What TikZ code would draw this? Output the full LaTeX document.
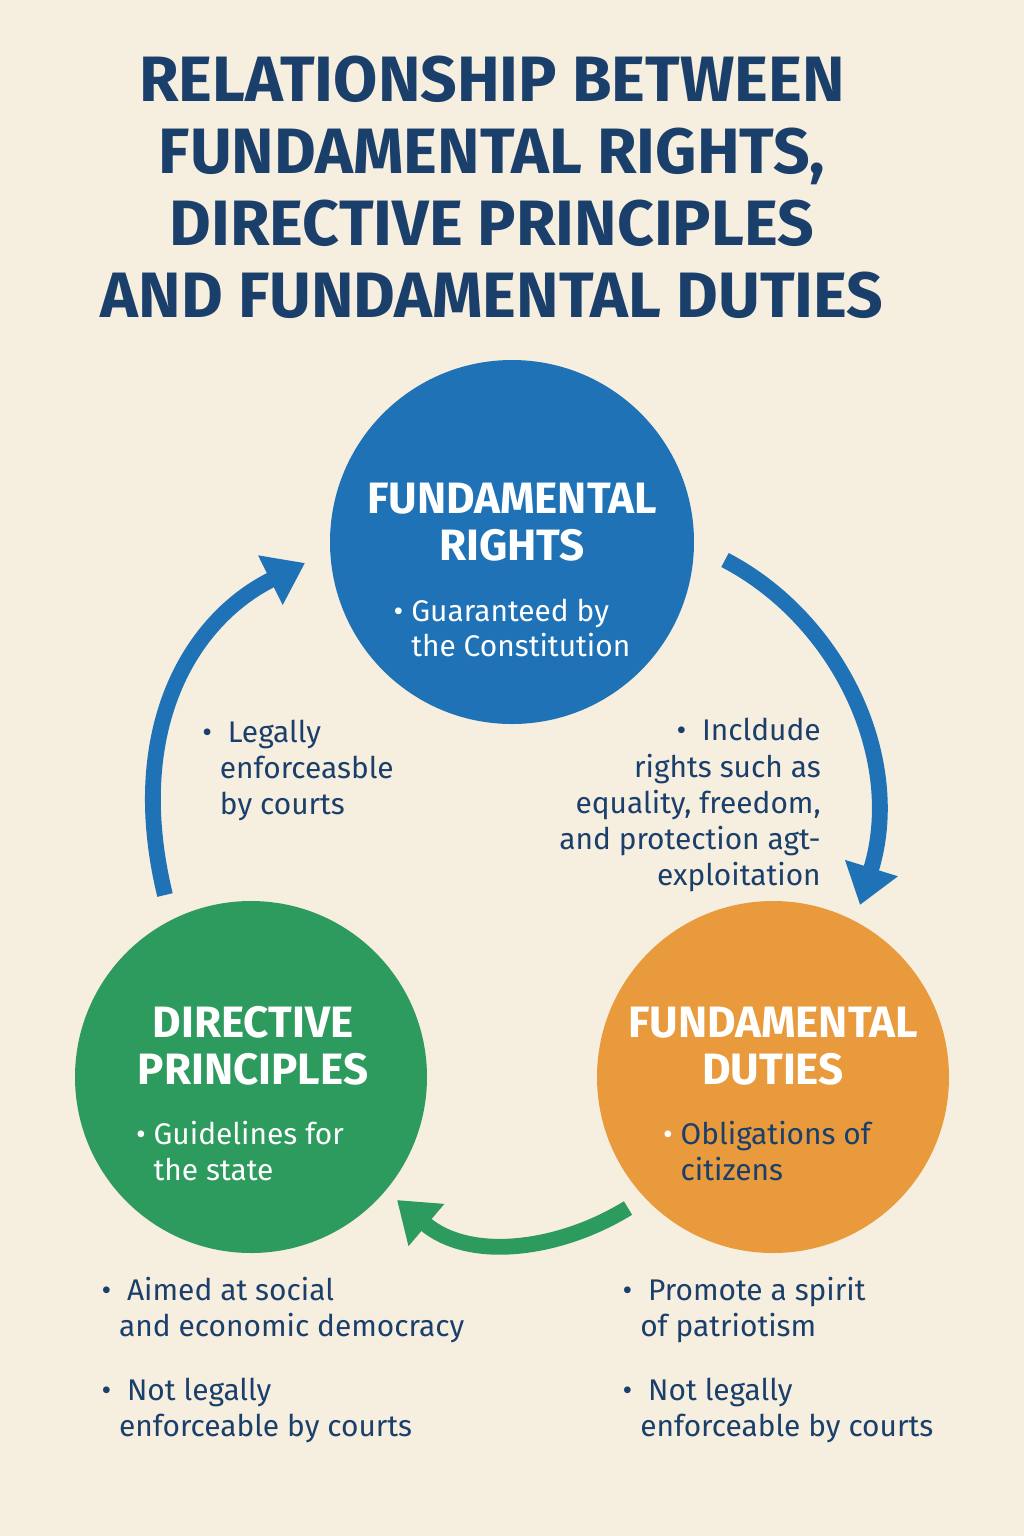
\documentclass[tikz,border=0pt]{standalone}
\usepackage{fontspec}
\setmainfont{Fira Sans}
\usetikzlibrary{arrows.meta,positioning}
\definecolor{bg}{HTML}{F6EEDF}
\definecolor{navy}{HTML}{1B3F6B}
\definecolor{rblue}{HTML}{1E72B5}
\definecolor{dgreen}{HTML}{2E9B5E}
\definecolor{dorange}{HTML}{E89A3C}
\tikzset{
  head/.style={font=\fontsize{25}{27}\selectfont\bfseries, align=center},
  sub/.style={font=\fontsize{17}{20}\selectfont, align=left},
  note/.style={font=\fontsize{17}{20.5}\selectfont, align=left, text=navy},
  flow/.style={line width=9pt, -{Triangle[length=22pt,width=30pt]}}
}
\begin{document}
\begin{tikzpicture}[x=0.02cm,y=-0.02cm]
  \fill[bg] (0,0) rectangle (1024,1536);
  % Title
  \node[text=navy, font=\fontsize{36.5}{41}\selectfont\bfseries, align=center] (title) at (492,187)
    {RELATIONSHIP BETWEEN\\FUNDAMENTAL RIGHTS,\\DIRECTIVE PRINCIPLES\\AND FUNDAMENTAL DUTIES};

  % Circles
  \fill[rblue] (512,542) circle (182);
  \fill[dgreen] (251,1077) circle (176);
  \fill[dorange] (773,1077) circle (176);
  \node[head, text=white] (fr) at (512,522) {FUNDAMENTAL\\RIGHTS};
  \node[sub, text=white] (frs) at (512,628) {\textbullet\ Guaranteed by\\\phantom{\textbullet\ }the Constitution};
  \node[head, text=white] (dp) at (253,1046) {DIRECTIVE\\PRINCIPLES};
  \node[sub, text=white] (dps) at (240,1151) {\textbullet\ Guidelines for\\\phantom{\textbullet\ }the state};
  \node[head, text=white] (fd) at (773,1046) {FUNDAMENTAL\\DUTIES};
  \node[sub, text=navy] (fds) at (767,1151) {{\color{white}\textbullet}\ Obligations of\\\phantom{\textbullet\ }citizens};

  % Arrows
  \draw[flow, rblue] (165,895) .. controls (125,730) and (190,620) .. (305,563);
  \draw[flow, rblue] (725,560) .. controls (840,620) and (905,760) .. (860,905);
  \draw[flow, dgreen] (628,1208) .. controls (560,1250) and (470,1262) .. (397,1200);

  % Notes
  \node[note] (legal) at (298,770) {\textbullet\ \ Legally\\\phantom{\textbullet\ }enforceasble\\\phantom{\textbullet\ }by courts};
  \node[note, align=right] (incl) at (690,805) {\textbullet\ \ Incldude\\rights such as\\equality, freedom,\\and protection agt-\\exploitation};
  \node[note] (dpn) at (283,1360) {\textbullet\ \ Aimed at social\\\phantom{\textbullet\ }and economic democracy\\[16pt]\textbullet\ \ Not legally\\\phantom{\textbullet\ }enforceable by courts};
  \node[note] (fdn) at (778,1360) {\textbullet\ \ Promote a spirit\\\phantom{\textbullet\ }of patriotism\\[16pt]\textbullet\ \ Not legally\\\phantom{\textbullet\ }enforceable by courts};
\end{tikzpicture}
\end{document}
